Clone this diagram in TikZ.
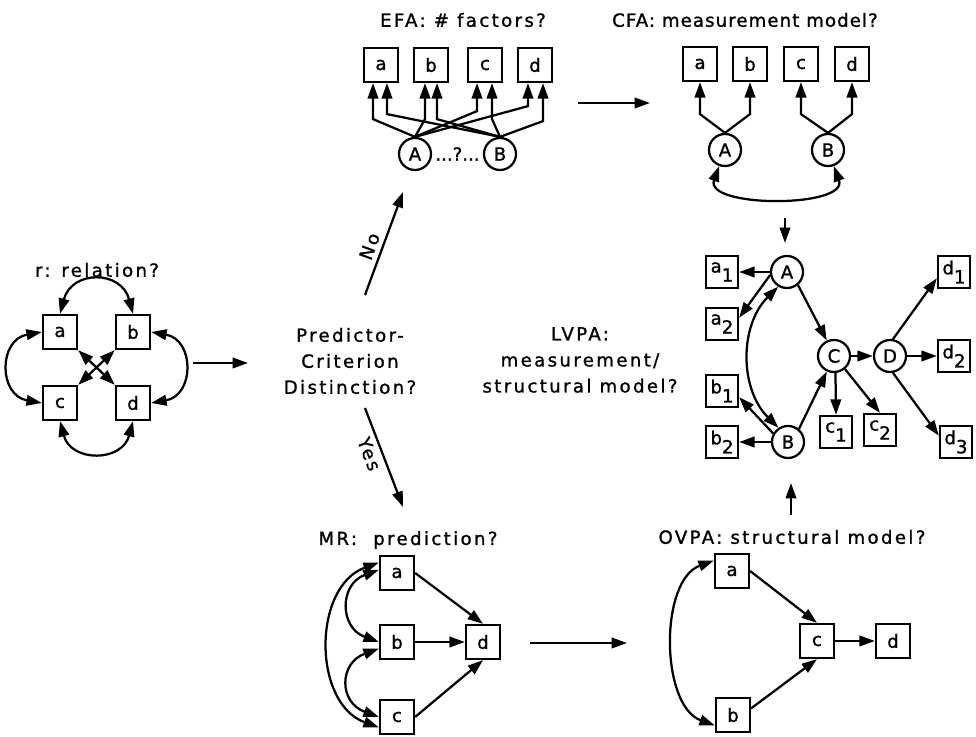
\documentclass[tikz,border=0pt]{standalone}
\usepackage{fontspec}
\setmainfont[LetterSpace=13,FakeBold=1.2]{DejaVu Sans}
\usetikzlibrary{arrows.meta,calc}
\tikzset{
  font={\fontsize{12.9pt}{18.5pt}\selectfont}}
\newcommand{\ind}[2]{\raisebox{0.15em}{#1}\raisebox{-0.35em}{#2}}

\begin{document}
\begin{tikzpicture}[x=0.025cm,y=0.025cm,line width=1.6pt,
  >={Triangle[length=11pt,width=7.5pt]},
  obs/.style={draw,rectangle,minimum size=0.85cm,inner sep=0pt},
  obss/.style={draw,rectangle,minimum size=0.8cm,inner sep=0pt},
  lat/.style={draw,circle,minimum size=0.8cm,inner sep=0pt},
  txt/.style={align=center,inner sep=1pt}]
\useasboundingbox (0,0) rectangle (976,737);

\node[txt] (rtitle) at (97,467) {r: relation?};
\node[obs] (ra) at (60,405) {a};
\node[obs] (rb) at (133,405) {b};
\node[obs] (rc) at (60,334) {c};
\node[obs] (rd) at (133,334) {d};
\draw[<->] (ra.north) to[out=75,in=105,looseness=1.6] (rb.north);
\draw[<->] (rc.south) to[out=-75,in=-105,looseness=1.5] (rd.south);
\draw[<->] (ra.west) to[out=190,in=170,looseness=1.6] (rc.west);
\draw[<->] (rb.east) to[out=-10,in=10,looseness=1.6] (rd.east);
\draw[<->] (ra.south east) -- (rd.north west);
\draw[<->] (rb.south west) -- (rc.north east);
\coordinate (r0) at (193,374);
\coordinate (r1) at (248,374);
\draw[->] (r0) -- (r1);

\node[txt] (pcd) at (350,376) {Predictor-\\Criterion\\Distinction?};
\coordinate (no0) at (365,442);
\coordinate (no1) at (403,545);
\draw[->] (no0) -- node[sloped,above,pos=0.43] {No} (no1);
\coordinate (yes0) at (365,329);
\coordinate (yes1) at (403,230);
\draw[->] (yes0) -- node[sloped,below,pos=0.42] {Yes} (yes1);

\node[txt] (etitle) at (463,717) {EFA: \# factors?};
\node[obs] (ea) at (381,672) {a};
\node[obs] (eb) at (431,672) {b};
\node[obs] (ec) at (485,672) {c};
\node[obs] (ed) at (535,672) {d};
\node[lat] (eA) at (415,583) {A};
\node[lat] (eB) at (500,583) {B};
\path (eA) -- node[inner sep=0pt] {\addfontfeature{LetterSpace=0}...?...} (eB);
\draw[->] (eA.north) -- ($(ea.south)+(-8,-36)$) -- ($(ea.south)+(-8,0)$);
\draw[->] (eA.north) -- ($(eb.south)+(-6,-36)$) -- ($(eb.south)+(-6,0)$);
\draw[->] (eA.north) -- ($(ec.south)+(-8,-28)$) -- ($(ec.south)+(-8,0)$);
\draw[->] (eA.north) -- ($(ed.south)+(-7,-23)$) -- ($(ed.south)+(-7,0)$);
\draw[->] (eB.north) -- ($(ea.south)+(6,-31)$) -- ($(ea.south)+(6,0)$);
\draw[->] (eB.north) -- ($(eb.south)+(6,-36)$) -- ($(eb.south)+(6,0)$);
\draw[->] (eB.north) -- ($(ec.south)+(7,-36)$) -- ($(ec.south)+(7,0)$);
\draw[->] (eB.north) -- ($(ed.south)+(8,-38)$) -- ($(ed.south)+(8,0)$);
\coordinate (e2c0) at (578,634);
\coordinate (e2c1) at (650,634);
\draw[->] (e2c0) -- (e2c1);

\node[txt] (ctitle) at (745,717) {\addfontfeature{LetterSpace=6}CFA: measurement model?};
\node[obs] (ca) at (700,673) {a};
\node[obs] (cb) at (750,673) {b};
\node[obs] (cc) at (801,673) {c};
\node[obs] (cd) at (852,673) {d};
\node[lat] (cA) at (725,587) {A};
\node[lat] (cB) at (828,587) {B};
\draw[->] (cA.north) -- ($(ca.south)+(0,-32)$) -- (ca.south);
\draw[->] (cA.north) -- ($(cb.south)+(0,-32)$) -- (cb.south);
\draw[->] (cB.north) -- ($(cc.south)+(0,-32)$) -- (cc.south);
\draw[->] (cB.north) -- ($(cd.south)+(0,-32)$) -- (cd.south);
\draw[<->] (cA.-110) to[out=-110,in=-70] (cB.-70);
\coordinate (c2l0) at (785,519);
\coordinate (c2l1) at (785,494);
\draw[->] (c2l0) -- (c2l1);

\node[txt] (ltitle) at (580,377) {LVPA:\\measurement/\\structural model?};
\node[lat] (lA) at (787,465) {A};
\node[lat] (lB) at (788,295) {B};
\node[lat] (lC) at (834,381) {C};
\node[lat] (lD) at (890,381) {D};
\node[obss] (a1) at (722,465) {\ind{a}{1}};
\node[obss] (a2) at (722,413) {\ind{a}{2}};
\node[obss] (b1) at (722,346) {\ind{b}{1}};
\node[obss] (b2) at (722,295) {\ind{b}{2}};
\node[obss] (c1) at (836,305) {\ind{c}{1}};
\node[obss] (c2) at (880,307) {\ind{c}{2}};
\node[obss] (d1) at (954,465) {\ind{d}{1}};
\node[obss] (d2) at (954,381) {\ind{d}{2}};
\node[obss] (d3) at (956,295) {\ind{d}{3}};
\draw[->] (lA.west) -- (a1.east);
\draw[->] (lA.190) -- (a2.20);
\draw[<->] (lA.239) to[out=225,in=135] (lB.124);
\draw[->] (lB.150) -- (b1.-20);
\draw[->] (lB.west) -- (b2.east);
\draw[->] (lA.-50) -- (lC.115);
\draw[->] (lB.50) -- (lC.-115);
\draw[->] (lC.east) -- (lD.west);
\draw[->] (lC.-85) -- (c1.north);
\draw[->] (lC.-50) -- (c2.north);
\draw[->] (lD.80) -- (d1.200);
\draw[->] (lD.east) -- (d2.west);
\draw[->] (lD.-80) -- (d3.160);

\node[txt] (mtitle) at (408,197) {MR:\ \ prediction?};
\node[obs] (ma) at (397,164) {a};
\node[obs] (mb) at (397,95) {b};
\node[obs] (mc) at (397,20) {c};
\node[obs] (md) at (483,95) {d};
\draw[->] (ma.east) -- (md.north);
\draw[->] (mb.east) -- (md.west);
\draw[->] (mc.east) -- (md.south);
\draw[<->] (ma.170) to[out=200,in=160,looseness=1.5] (mb.west);
\draw[<->] (mb.200) to[out=200,in=160,looseness=1.6] (mc.west);
\draw[<->] (ma.150) to[out=200,in=160,looseness=1.1] (mc.210);
\coordinate (m2o0) at (530,94);
\coordinate (m2o1) at (627,94);
\draw[->] (m2o0) -- (m2o1);

\node[txt] (otitle) at (792,200) {OVPA: structural model?};
\node[obs] (oa) at (732,166) {a};
\node[obs] (ob) at (733,22) {b};
\node[obs] (oc) at (817,96) {c};
\node[obs] (od) at (893,96) {d};
\draw[->] (oa.east) -- (oc.north);
\draw[->] (ob.20) -- (oc.south);
\draw[->] (oc.east) -- (od.west);
\draw[<->] (oa.150) to[out=200,in=160,looseness=0.9] (ob.210);
\coordinate (o2l0) at (791,222);
\coordinate (o2l1) at (791,254);
\draw[->] (o2l0) -- (o2l1);
\end{tikzpicture}
\end{document}
